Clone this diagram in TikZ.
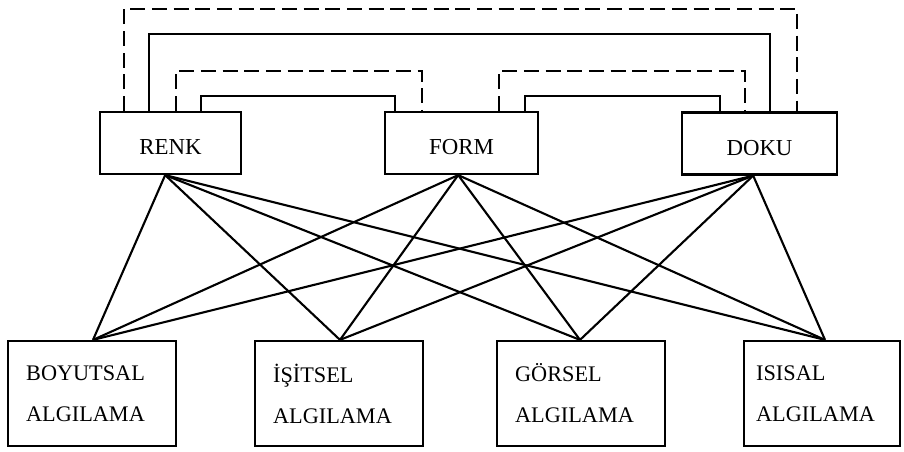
\documentclass[tikz,border=0pt]{standalone}
\usepackage{fontspec}
\setmainfont{Liberation Serif}
\begin{document}
\begin{tikzpicture}[x=0.03cm,y=-0.03cm,
  line join=miter,
  box/.style={draw, line width=1.9pt, rectangle, inner sep=0pt},
  topbox/.style={box, minimum height=1.86cm, text height=0.7cm, text depth=0pt,
    font=\fontsize{19.5pt}{22pt}\selectfont},
  lowbox/.style={box, minimum width=5.04cm, minimum height=3.15cm,
    text width=3.95cm, align=left,
    font=\fontsize{19pt}{35pt}\selectfont},
  link/.style={line width=1.8pt},
  dlink/.style={line width=1.8pt, dash pattern=on 0.45cm off 0.2cm}]
\useasboundingbox (0,0) rectangle (904,451);

% upper row
\node[topbox, minimum width=4.23cm] (renk) at (170.5,143) {RENK};
\node[topbox, minimum width=4.59cm] (form) at (461.5,143) {FORM};
\node[topbox, minimum width=4.65cm] (doku) at (759.5,143.5) {DOKU};

% lower row
\node[lowbox] (boyut) at (92,393.5) {BOYUTSAL\\ALGILAMA};
\node[lowbox] (isit) at (339,393.5) {İŞİTSEL\\ALGILAMA};
\node[lowbox] (gorsel) at (581,393.5) {GÖRSEL\\ALGILAMA};
\node[lowbox, minimum width=4.68cm] (isisal) at (822,393.5) {ISISAL\\ALGILAMA};

% feet of the upper boxes and heads of the lower boxes
\coordinate (rs) at ([xshift=-0.16cm]renk.south);
\coordinate (fs) at ([xshift=-0.1cm]form.south);
\coordinate (ds) at ([xshift=-0.19cm]doku.south);
\coordinate (bn) at ([xshift=0.03cm]boyut.north);
\coordinate (in) at ([xshift=0.03cm]isit.north);
\coordinate (gn) at ([xshift=-0.03cm]gorsel.north);
\coordinate (sn) at ([xshift=0.09cm]isisal.north);

% every quality feeds every kind of perception
\foreach \t in {rs,fs,ds}
  \foreach \b in {bn,in,gn,sn}
    \draw[link] (\t) -- (\b);

% ties between the upper boxes
\draw[dlink] ([xshift=0.75cm]renk.north west) -- ++(0,-102)
  -| ([xshift=3.48cm]doku.north west);
\draw[link] ([xshift=1.5cm]renk.north west) -- ++(0,-77)
  -| ([xshift=2.67cm]doku.north west);
\draw[dlink] ([xshift=2.31cm]renk.north west) -- ++(0,-40)
  -| ([xshift=1.14cm]form.north west);
\draw[link] ([xshift=3.06cm]renk.north west) -- ++(0,-15)
  -| ([xshift=0.33cm]form.north west);
\draw[dlink] ([xshift=3.45cm]form.north west) -- ++(0,-40)
  -| ([xshift=1.92cm]doku.north west);
\draw[link] ([xshift=4.23cm]form.north west) -- ++(0,-15)
  -| ([xshift=1.17cm]doku.north west);
\end{tikzpicture}
\end{document}
